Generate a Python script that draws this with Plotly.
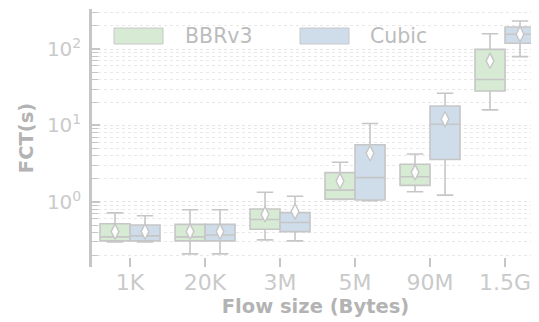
import plotly.graph_objects as go

categories = ["1K", "20K", "3M", "5M", "90M", "1.5G"]

bbr_lower = [0.30, 0.21, 0.32, 1.08, 1.36, 16.0]
bbr_q1 = [0.31, 0.31, 0.44, 1.09, 1.65, 28.2]
bbr_median = [0.35, 0.35, 0.59, 1.43, 2.14, 40.0]
bbr_q3 = [0.52, 0.51, 0.81, 2.42, 3.11, 99.0]
bbr_upper = [0.72, 0.79, 1.34, 3.3, 4.24, 158.0]
bbr_mean = [0.41, 0.41, 0.69, 1.88, 2.44, 70.0]

cubic_lower = [0.30, 0.21, 0.31, 1.04, 1.23, 79.6]
cubic_q1 = [0.31, 0.31, 0.41, 1.06, 3.6, 119.0]
cubic_median = [0.36, 0.37, 0.54, 2.08, 10.4, 156.0]
cubic_q3 = [0.50, 0.51, 0.725, 5.6, 18.0, 194.0]
cubic_upper = [0.66, 0.79, 1.19, 10.6, 26.4, 232.0]
cubic_mean = [0.41, 0.41, 0.75, 4.33, 12.1, 156.0]

series_names = ["BBRv3", "Cubic"]
ytick_vals = [1, 10, 100]
ytick_text = ["10<sup>0</sup>", "10<sup>1</sup>", "10<sup>2</sup>"]

GREEN = "rgb(214,234,212)"
BLUE = "rgb(207,221,235)"
EDGE = "#c6c6c6"
TICKC = "#cacaca"
TITLEC = "#b3b3b3"
FONT = "DejaVu Sans"

idx = list(range(len(categories)))
x_bbr = [i - 0.2 for i in idx]
x_cub = [i + 0.2 for i in idx]

fig = go.Figure()

for xs, lo, q1, med, q3, up, col, name in [
    (x_bbr, bbr_lower, bbr_q1, bbr_median, bbr_q3, bbr_upper, GREEN, series_names[0]),
    (x_cub, cubic_lower, cubic_q1, cubic_median, cubic_q3, cubic_upper, BLUE, series_names[1]),
]:
    fig.add_trace(go.Box(
        x=xs, q1=q1, median=med, q3=q3, lowerfence=lo, upperfence=up,
        width=0.4, whiskerwidth=0.55, fillcolor=col,
        line=dict(color=EDGE, width=1.6), name=name, showlegend=False,
        boxpoints=False, hoverinfo="skip",
    ))

for xs, mn in [(x_bbr, bbr_mean), (x_cub, cubic_mean)]:
    fig.add_trace(go.Scatter(
        x=xs, y=mn, mode="markers", showlegend=False, hoverinfo="skip",
        marker=dict(symbol="diamond-tall", size=11, color="white",
                    line=dict(color=EDGE, width=1.4)),
    ))

minor_vals = [k * 10 ** e for e in range(-1, 3) for k in range(2, 10) if 0.15 < k * 10 ** e < 330]

# page has an 8px body margin: figure is drawn from (8, 8)
fig.update_layout(
    width=531, height=314,
    margin=dict(l=84, r=0, t=1, b=55, autoexpand=False),
    paper_bgcolor="white", plot_bgcolor="white",
    font=dict(family=FONT, color=TICKC),
    showlegend=False,
)

fig.update_xaxes(
    range=[-0.507, 5.453], automargin=False,
    tickmode="array", tickvals=idx, ticktext=categories,
    ticks="inside", ticklen=9, tickwidth=1.5, tickcolor=EDGE,
    showline=False, showgrid=False, zeroline=False,
    tickfont=dict(family=FONT, size=22, color=TICKC),
    ticklabelstandoff=0,
    title=dict(text="<b>Flow size (Bytes)</b>", font=dict(family=FONT, size=19.5, color=TITLEC), standoff=2),
)

fig.update_yaxes(
    type="log", range=[-0.85, 2.523], automargin=False,
    tickmode="array", tickvals=ytick_vals, ticktext=ytick_text,
    ticks="inside", ticklen=8, tickwidth=1.5, tickcolor=EDGE,
    showline=True, linecolor=EDGE, linewidth=2.5,
    showgrid=True, gridcolor="#e4e4e4", griddash="dot", gridwidth=1,
    zeroline=False,
    tickfont=dict(family=FONT, size=20, color=TICKC),
    ticklabelstandoff=4,
    minor=dict(tickmode="array", tickvals=minor_vals, ticks="inside", ticklen=6,
               tickwidth=1.2, tickcolor=EDGE, showgrid=True, gridcolor="#e8e8e8",
               griddash="dot", gridwidth=1),
    title=dict(text="<b>FCT(s)</b>", font=dict(family=FONT, size=19.5, color=TITLEC), standoff=9),
)

# legend (manual, in paper coordinates; arguments are page pixels)
def px_x(p):
    return (p - 92) / 447

def px_y(p):
    return (267 - p) / 258

for x0, x1, col, tx, name in [(114, 163, GREEN, 183, series_names[0]), (300, 349, BLUE, 368, series_names[1])]:
    fig.add_shape(type="rect", xref="paper", yref="paper",
                  x0=px_x(x0), x1=px_x(x1), y0=px_y(44), y1=px_y(28),
                  fillcolor=col, line=dict(color="#c8c8c8", width=1))
    fig.add_annotation(xref="paper", yref="paper", x=px_x(tx), y=px_y(36),
                       xanchor="left", yanchor="middle", showarrow=False,
                       text=name, font=dict(family=FONT, size=20.5, color="#bcbcbc"))

fig.add_shape(type="line", xref="paper", yref="paper", x0=px_x(531), x1=px_x(539),
              y0=px_y(319), y1=px_y(319), line=dict(color="#555555", width=1.5))

fig.write_html("out.html")
